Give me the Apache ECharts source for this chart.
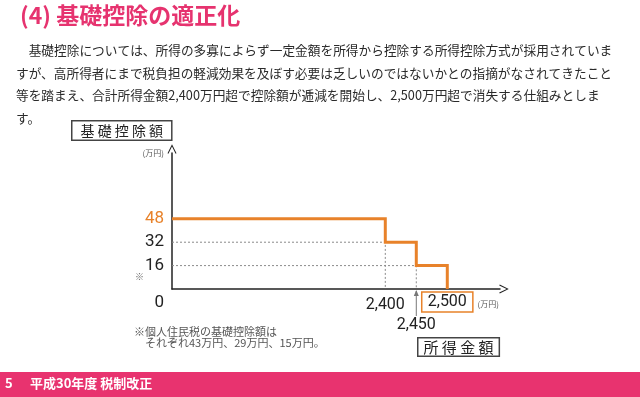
<!DOCTYPE html>
<html>
<head>
<meta charset="utf-8">
<script src="https://cdn.jsdelivr.net/npm/echarts@6/dist/echarts.min.js"></script>
<style>
  html, body { margin: 0; padding: 0; background: #fff; }
  #chart { width: 640px; height: 397px; }
</style>
</head>
<body>
<div id="chart"></div>
<script>
// data
const breakPoints = [2400, 2450, 2500]      // 所得金額（万円）
const deductions = [48, 32, 16, 0]          // 基礎控除額（万円）
const yTicks = [0, 16, 32, 48]
const xTicks = [2400, 2500]
const xTicksLow = [2450]
const xStart = 2056   // 軸の左端（省略表示）
const xEnd = 2585
const yEnd = 93

const ORANGE = '#E8822A'
const PINK = '#E6336F'
const FONT = '"Noto Sans CJK JP", "Noto Sans", sans-serif'
const NUM = 'Roboto, sans-serif'

// step path: start at the y axis, drop at each break point
const stepData = [[xStart, deductions[0]]]
breakPoints.forEach((x, i) => {
  stepData.push([x, deductions[i]])
  stepData.push([x, deductions[i + 1]])
})

// dotted guides from the y axis to each break and down to the x axis
const guides = breakPoints.slice(0, 2).map((x, i) => [
  [xStart, deductions[i + 1]],
  [x, deductions[i + 1]],
  [x, 0]
])

const chart = echarts.init(document.getElementById('chart'))

const chevron = 'path://M0,10 L5,0 L10,10 L9,10.6 L5,2.4 L1,10.6 Z'
const fmt = v => v.toLocaleString('en-US')

const option = {
  animation: false,
  grid: { left: 172, right: 140, top: 153, bottom: 108 },
  xAxis: [
    {
      type: 'value',
      min: xStart,
      max: xEnd,
      axisLine: {
        lineStyle: { color: '#222', width: 1.5 },
        symbol: ['none', chevron],
        symbolSize: [9, 11],
        symbolOffset: [0, 4]
      },
      axisTick: { show: false },
      splitLine: { show: false },
      name: '(万円)',
      nameLocation: 'end',
      nameGap: -24,
      nameTextStyle: {
        fontFamily: FONT, fontSize: 8, color: '#555',
        align: 'left', verticalAlign: 'top', padding: [11, 0, 0, 0]
      },
      axisLabel: {
        customValues: xTicks,
        hideOverlap: false,
        margin: 5,
        formatter: v => (v === 2500 ? '{c|' : '{a|') + fmt(v) + '}',
        rich: {
          a: { fontSize: 16, color: '#222', lineHeight: 22, fontFamily: NUM },
          c: {
            fontSize: 16, color: '#222', lineHeight: 16, fontFamily: NUM,
            borderColor: ORANGE, borderWidth: 1.5, padding: [2, 6, 2, 6]
          }
        }
      }
    },
    {
      // second row of labels under the axis (2,450)
      type: 'value',
      min: xStart,
      max: xEnd,
      position: 'bottom',
      axisLine: { show: false },
      axisTick: { show: false },
      splitLine: { show: false },
      axisLabel: {
        customValues: xTicksLow,
        margin: 28,
        fontSize: 16,
        color: '#222',
        fontFamily: NUM,
        formatter: fmt
      }
    }
  ],
  yAxis: {
    type: 'value',
    min: 0,
    max: yEnd,
    axisLine: {
      show: true,
      lineStyle: { color: '#222', width: 1.5 },
      symbol: ['none', chevron],
      symbolSize: [9, 11],
      symbolOffset: [0, 4]
    },
    axisTick: { show: false },
    splitLine: { show: false },
    name: '(万円)',
    nameLocation: 'end',
    nameGap: 0,
    nameTextStyle: {
      fontFamily: FONT, fontSize: 8, color: '#555',
      align: 'right', verticalAlign: 'middle', padding: [4, 8, 0, 0]
    },
    axisLabel: {
      customValues: yTicks,
      hideOverlap: false,
      margin: 8,
      formatter: v => {
        if (v === 48) return '{o|48}'
        if (v === 0) return '{z|0}'
        return '{n|' + v + '}'
      },
      rich: {
        o: { fontSize: 17, color: ORANGE, fontFamily: NUM },
        n: { fontSize: 17, color: '#222', fontFamily: NUM },
        z: { fontSize: 17, color: '#222', fontFamily: NUM, padding: [28, 0, 0, 0] }
      }
    }
  },
  series: [
    ...guides.map(g => ({
      type: 'line',
      data: g,
      symbol: 'none',
      silent: true,
      lineStyle: { color: '#8a8a8a', width: 1, type: [2, 2] }
    })),
    {
      type: 'line',
      data: stepData,
      symbol: 'none',
      z: 5,
      lineStyle: { color: ORANGE, width: 3, join: 'miter' }
    }
  ],
  graphic: [
    {
      type: 'text', left: 20, top: 4,
      style: { text: '(4) 基礎控除の適正化', font: 'bold 23px ' + FONT, fill: PINK }
    },
    {
      type: 'text', left: 16, top: 39,
      style: {
        text: '\u3000基礎控除については、所得の多寡によらず一定金額を所得から控除する所得控除方式が採用されていま\n' +
          'すが、高所得者にまで税負担の軽減効果を及ぼす必要は乏しいのではないかとの指摘がなされてきたこと\n' +
          '等を踏まえ、合計所得金額2,400万円超で控除額が逓減を開始し、2,500万円超で消失する仕組みとしま\n' +
          'す。',
        font: '12.7px ' + FONT, fill: '#2a2a2a', lineHeight: 22.5
      }
    },
    {
      type: 'text', left: 71, top: 120,
      style: {
        text: '基 礎 控 除 額', font: '14px ' + FONT, fill: '#222',
        borderColor: '#444', borderWidth: 1.5,
        padding: [2, 8, 2, 8], backgroundColor: '#fff'
      }
    },
    {
      type: 'text', left: 417, top: 337,
      style: {
        text: '所 得 金 額', font: '15px ' + FONT, fill: '#222',
        borderColor: '#444', borderWidth: 1.5,
        padding: [1, 5, 1, 5], backgroundColor: '#fff'
      }
    },
    {
      type: 'text', left: 135, top: 272,
      style: { text: '※', font: '9px ' + FONT, fill: '#666' }
    },
    {
      type: 'text', left: 134, top: 326,
      style: {
        text: '※個人住民税の基礎控除額は\n\u3000それぞれ43万円、29万円、15万円。',
        font: '11px ' + FONT, fill: '#555', lineHeight: 11.5
      }
    },
    {
      type: 'rect', left: 0, top: 372, z: 0,
      shape: { width: 640, height: 25 },
      style: { fill: '#E8336F' }
    },
    {
      type: 'text', left: 5, top: 377, z: 1,
      style: { text: '5', font: 'bold 13px ' + FONT, fill: '#fff' }
    },
    {
      type: 'text', left: 30, top: 377, z: 1,
      style: { text: '平成30年度 税制改正', font: 'bold 13px ' + FONT, fill: '#fff' }
    }
  ]
}

chart.setOption(option)

// small grey arrow pointing from the 2,450 label up to the x axis
const tip = chart.convertToPixel({ xAxisIndex: 0, yAxisIndex: 0 }, [breakPoints[1], 0])
chart.setOption({
  graphic: [
    {
      type: 'line', id: 'arrowShaft',
      shape: { x1: tip[0], y1: tip[1] + 27, x2: tip[0], y2: tip[1] + 2 },
      style: { stroke: '#777', lineWidth: 1 }
    },
    {
      type: 'polygon', id: 'arrowHead',
      shape: { points: [[tip[0], tip[1] + 1], [tip[0] - 2.5, tip[1] + 7], [tip[0] + 2.5, tip[1] + 7]] },
      style: { fill: '#777' }
    }
  ]
})
</script>
</body>
</html>
